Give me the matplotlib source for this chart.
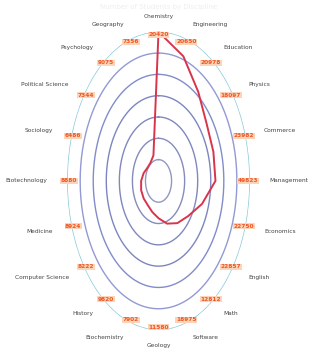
import numpy as np
import matplotlib.pyplot as plt

# indicators, clockwise from the top
subjects = ['Chemistry', 'Engineering', 'Education', 'Physics', 'Commerce',
            'Management', 'Economics', 'English', 'Math', 'Software',
            'Geology', 'Biochemistry', 'History', 'Computer Science', 'Medicine',
            'Biotechnology', 'Sociology', 'Political Science', 'Psychology', 'Geography']
students = [20420, 20650, 20978, 18097, 23982,
            49823, 22750, 22857, 12812, 18975,
            11580, 7902, 9820, 8222, 8924,
            8880, 6486, 7344, 9075, 7356]
indicator_max = [20420, 23500, 28400, 27800, 38000,
                 80000, 45500, 57000, 36600, 63000,
                 46300, 36000, 49000, 41000, 44600,
                 46700, 38000, 49000, 60500, 40900]

n = len(subjects)
theta = np.arange(n) * 2 * np.pi / n
r = np.array(students) / np.array(indicator_max)

fig = plt.figure(figsize=(3.18, 3.53), dpi=100)
ax = fig.add_axes([0.211, 0.065, 0.575, 0.845], projection='polar')
ax.set_aspect('auto')
ax.set_theta_zero_location('N')
ax.set_theta_direction(-1)
ax.set_ylim(0, 1.0)
ax.grid(False)
ax.spines['polar'].set_visible(False)
ax.set_xticks([])
ax.set_yticks([])

# split lines (rings)
ring_colors = ['#7f86b8', '#6f78b0', '#6a73b2', '#6670b4', '#6c78c0', '#8088cc', '#72bfd2']
t = np.linspace(0, 2 * np.pi, 300)
for k, c in enumerate(ring_colors):
    ax.plot(t, np.full_like(t, (k + 1) / 7), color=c, lw=1.0, alpha=0.85)

# series
ax.plot(np.append(theta, theta[0]), np.append(r, r[0]), color='#d8344c', lw=1.4)

# value labels and indicator names
for th, name, v in zip(theta, subjects, students):
    ax.text(th, 0.98, str(v), color='#ef5524', fontsize=4.2, fontweight='bold',
            ha='center', va='center',
            bbox=dict(boxstyle='square,pad=0.1', facecolor='#fcd5b8', edgecolor='none'))
    s, c = np.sin(th), np.cos(th)
    if s > 0.15:
        ha = 'left'
    elif s < -0.15:
        ha = 'right'
    else:
        ha = 'center'
    ax.annotate(name, xy=(th, 1.0), xytext=(14 * s, 11 * c), textcoords='offset points',
                ha=ha, va='center', fontsize=4.2, color='#444444', annotation_clip=False)

fig.text(0.5, 0.99, 'Number of Students by Discipline', ha='center', va='top',
         fontsize=5, color='#eeeeee')

plt.savefig('out.png')
